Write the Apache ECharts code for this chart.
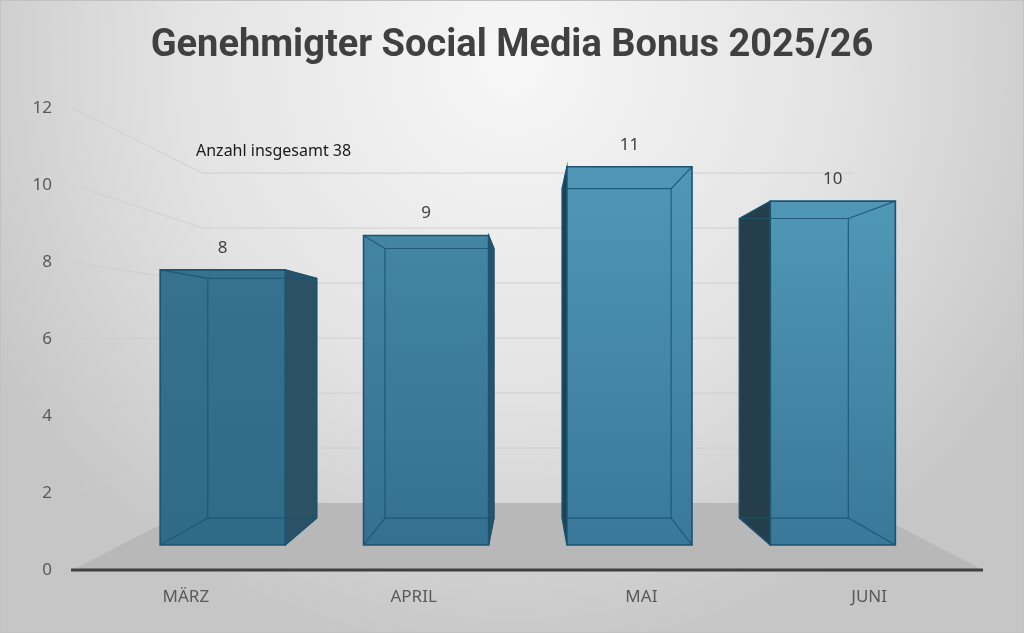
<!DOCTYPE html>
<html>
<head>
<meta charset="utf-8">
<script src="https://cdn.jsdelivr.net/npm/echarts@6/dist/echarts.min.js"></script>
<style>
  html, body { margin: 0; padding: 0; }
  #chart { width: 1024px; height: 633px; }
</style>
</head>
<body>
<div id="chart"></div>
<script>
// data
const categories = ['MÄRZ', 'APRIL', 'MAI', 'JUNI'];
const values = [8, 9, 11, 10];
const yTicks = [0, 2, 4, 6, 8, 10, 12];
const totalLabel = 'Anzahl insgesamt ';

// perspective settings (screen px of the vanishing point, depth scale factors)
const VP = [530, 336];
const S_WALL = 0.714;   // back wall
const S_FRONT = 0.893;  // bar front face
const S_BACK = 0.778;   // bar back face
const BAR_RATIO = 0.615;

function proj(p, s) {
    return [VP[0] + s * (p[0] - VP[0]), VP[1] + s * (p[1] - VP[1])];
}

function mix(a, b, t) {
    const pa = [1, 3, 5].map(i => parseInt(a.substr(i, 2), 16));
    const pb = [1, 3, 5].map(i => parseInt(b.substr(i, 2), 16));
    return 'rgb(' + pa.map((v, i) => Math.round(v + (pb[i] - v) * t)).join(',') + ')';
}

const EDGE = '#1b5371';

function renderWalls(params, api) {
    const cs = params.coordSys;
    const x0 = cs.x, x1 = cs.x + cs.width;
    const y0 = api.coord([0, 0])[1];
    const children = [];
    // floor
    children.push({
        type: 'polygon',
        shape: { points: [[x0, y0], [x1, y0], proj([x1, y0], S_WALL), proj([x0, y0], S_WALL)] },
        style: { fill: '#b8b8b8' }
    });
    // left wall + back wall grid lines
    yTicks.forEach(v => {
        if (v === 0) return;
        const y = api.coord([0, v])[1];
        const a = [x0, y], b = proj([x0, y], S_WALL), c = proj([x1, y], S_WALL);
        children.push({
            type: 'polyline',
            shape: { points: [a, b, c] },
            style: { stroke: 'rgba(205,205,205,0.75)', lineWidth: 1.3, fill: null }
        });
    });
    // front floor edge
    children.push({
        type: 'line',
        shape: { x1: x0 - 1, y1: y0, x2: x1, y2: y0 },
        style: { stroke: '#404040', lineWidth: 3 }
    });
    return { type: 'group', children: children };
}

function renderBar(params, api) {
    const idx = api.value(0);
    const val = api.value(1);
    const top = api.coord([idx, val]);
    const base = api.coord([idx, 0]);
    const hw = api.size([1, 0])[0] * BAR_RATIO / 2;
    const L = top[0] - hw, R = top[0] + hw, T = top[1], B = base[1];

    const fTL = proj([L, T], S_FRONT), fTR = proj([R, T], S_FRONT);
    const fBR = proj([R, B], S_FRONT), fBL = proj([L, B], S_FRONT);
    const bTL = proj([L, T], S_BACK), bTR = proj([R, T], S_BACK);
    const bBR = proj([R, B], S_BACK), bBL = proj([L, B], S_BACK);

    const t = Math.max(0, Math.min(1, (top[0] - 180) / 460));
    const topCol = mix('#35728f', '#5097b6', t);
    const botCol = mix('#2f6a87', '#397898', t);

    const children = [];
    // visible side face
    if (R < VP[0]) {
        children.push({
            type: 'polygon',
            shape: { points: [fTR, bTR, bBR, fBR] },
            style: { fill: '#2b5165', stroke: EDGE, lineWidth: 1.2 }
        });
    } else if (L > VP[0]) {
        children.push({
            type: 'polygon',
            shape: { points: [fTL, bTL, bBL, fBL] },
            style: { fill: '#243e4b', stroke: EDGE, lineWidth: 1.2 }
        });
    }
    // front face
    children.push({
        type: 'polygon',
        shape: { points: [fTL, fTR, fBR, fBL] },
        style: {
            fill: {
                type: 'linear', x: 0, y: 0, x2: 0, y2: 1,
                colorStops: [{ offset: 0, color: topCol }, { offset: 1, color: botCol }]
            }
        }
    });
    // edges seen through the glass
    children.push({
        type: 'polygon',
        shape: { points: [bTL, bTR, bBR, bBL] },
        style: { fill: null, stroke: EDGE, lineWidth: 1.2, opacity: 0.85 }
    });
    [[fTL, bTL], [fTR, bTR], [fBR, bBR], [fBL, bBL]].forEach(e => {
        children.push({
            type: 'line',
            shape: { x1: e[0][0], y1: e[0][1], x2: e[1][0], y2: e[1][1] },
            style: { stroke: EDGE, lineWidth: 1.2, opacity: 0.85 }
        });
    });
    children.push({
        type: 'polygon',
        shape: { points: [fTL, fTR, fBR, fBL] },
        style: { fill: null, stroke: EDGE, lineWidth: 1.6 }
    });
    // value label
    const lp = proj([top[0], T], S_FRONT);
    children.push({
        type: 'text',
        x: lp[0], y: lp[1] - 22,
        style: {
            text: String(val), fill: '#404040', fontSize: 17,
            fontFamily: 'Noto Sans', align: 'center', verticalAlign: 'middle'
        }
    });
    return { type: 'group', children: children };
}

const total = values.reduce((a, b) => a + b, 0);

const chart = echarts.init(document.getElementById('chart'));
chart.setOption({
    backgroundColor: {
        type: 'radial', x: 0.5, y: 0.1, r: 0.95,
        colorStops: [
            { offset: 0, color: '#f7f7f7' },
            { offset: 0.55, color: '#e3e3e3' },
            { offset: 1, color: '#c6c6c6' }
        ]
    },
    title: {
        text: 'Genehmigter Social Media Bonus 2025/26',
        left: 'center',
        top: 22,
        textStyle: { fontFamily: 'Roboto', fontWeight: 'bold', fontSize: 38, color: '#404040' }
    },
    graphic: [
        {
            type: 'rect', shape: { x: 0.5, y: 0.5, width: 1023, height: 632 },
            style: { fill: null, stroke: '#c2c2c2', lineWidth: 1 }, silent: true
        },
        {
            type: 'text', left: 196, top: 143,
            style: { text: totalLabel + total, fill: '#1a1a1a', fontSize: 16, fontFamily: 'Noto Sans' }
        }
    ],
    grid: { left: 72, right: 41, top: 108, bottom: 63 },
    xAxis: {
        type: 'category',
        data: categories,
        axisLine: { show: false },
        axisTick: { show: false },
        axisLabel: { color: '#595959', fontSize: 17, fontFamily: 'Noto Sans', margin: 19 }
    },
    yAxis: {
        type: 'value',
        min: 0, max: 12, interval: 2,
        axisLine: { show: false },
        axisTick: { show: false },
        splitLine: { show: false },
        axisLabel: { color: '#595959', fontSize: 17, fontFamily: 'Noto Sans', margin: 20 }
    },
    series: [
        {
            type: 'custom',
            silent: true,
            renderItem: renderWalls,
            data: [[0, 0]],
            encode: { x: 0, y: 1 },
            z: 1
        },
        {
            type: 'custom',
            renderItem: renderBar,
            data: values.map((v, i) => [i, v]),
            encode: { x: 0, y: 1 },
            z: 2
        }
    ]
});
</script>
</body>
</html>
